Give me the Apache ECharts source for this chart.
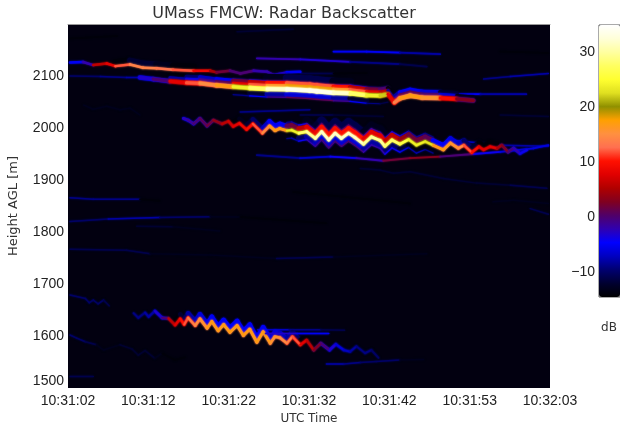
<!DOCTYPE html>
<html>
<head>
<meta charset="utf-8">
<script src="https://cdn.jsdelivr.net/npm/echarts@6/dist/echarts.min.js"></script>
<style>
  html, body { margin: 0; background: #fff; }
  #chart { width: 620px; height: 425px; }
</style>
</head>
<body>
<div id="chart"></div>
<script>
// every trace is a list of [seconds after 10:31:02, height m, dB]
const timeLabels = ['10:31:02', '10:31:12', '10:31:22', '10:31:32', '10:31:42', '10:31:53', '10:32:03'];
const colorTicks = [-10, 0, 10, 20, 30];

const upperLine = [[0.25,2126,-6],[1.9,2127,-5],[3.2,2121,-2],[4.9,2124,6],[6,2119,8],[7.85,2122,12],[9.5,2116,14],[11.2,2115,14],[13.3,2112,13],[15.9,2110,12],[18,2110,9],[18.8,2107,5],[20.5,2110,2],[21.8,2105,0],[23.5,2110,0],[25.2,2108,-2],[26,2102,-2],[27.7,2107,-3],[29.4,2108,-5]];
const mainLine = [[9.1,2097,-5],[10.8,2094,-3],[12.9,2090,0],[15,2087,8],[16.7,2086,12],[18.8,2082,15],[20.9,2079.5,17],[23,2077,24],[25.2,2075,28],[27.7,2074.4,32],[30.6,2072,34],[31.5,2070.5,34],[33.6,2068,34],[35.7,2066.7,32],[37.8,2063,28],[39.5,2062,24],[40.5,2065,22],[41.3,2049,8],[42,2057,14],[43.3,2062,17],[44.8,2058.4,17],[47.1,2057.7,16],[49.2,2055.8,10],[51.3,2053,3]];
const zigzag2000 = [[14.6,2018.5,-2],[15.2,2015,-2],[15.9,2008,-1],[16.7,2018.5,0],[17.6,2004,1],[18.4,2015,2],[19.5,2008,4],[20.3,2013,6],[20.9,2003,7],[21.7,2009,8],[22.6,1997,9],[23.4,2008,10],[24.6,1990,12],[25.5,2004,15],[26.2,1995,17],[26.8,1999,17],[27.7,1995,17],[28.3,1996,23],[29.2,1990,24],[30.2,1993,28],[31.3,1980,30],[32.1,1993,31],[33,1977,32],[33.8,1990,32],[34.6,1980,32],[35.5,1990,32],[36.3,1982,32],[37.4,1969,32],[38.4,1983,30],[39.5,1976,30],[40.1,1965,30],[41,1977,28],[42,1969,28],[43.1,1978,26],[44.1,1967,24],[45.2,1974,24],[46.2,1967,23],[47.5,1958,17],[48.4,1971,17],[49.4,1961,16],[50.1,1967,15],[51.1,1953,12],[52,1964,10],[52.6,1958,8],[53.4,1964,8],[54.3,1961,8],[54.9,1967,5],[55.7,1954,3],[56.4,1961,0],[57.2,1951,-2],[58.1,1958,-4]];
const zigzag1600 = [[8.3,1644,-9],[8.9,1635,-9],[9.75,1645,-9],[10.2,1637,-8],[11,1648,-8],[11.9,1635,-3],[12.7,1634,0],[13.55,1621,6],[14.2,1633,8],[14.7,1622,10],[15.2,1635,12],[16.1,1620,14],[16.7,1633,15],[17.6,1615,16],[18.2,1628,17],[19,1610,17],[19.7,1622,17],[20.5,1607,17],[21.4,1620,17],[22.2,1601,17],[23,1613,17],[23.9,1588,17],[24.7,1608,17],[25.6,1586,17],[26.2,1599,16],[26.8,1597,16],[27.7,1586,15],[28.4,1599,14],[29.4,1583,12],[30.2,1592,8],[31.1,1573,6],[32,1586,3],[33.1,1573,0],[33.9,1584,-3],[34.9,1573,-6],[35.7,1570,-7],[36.5,1580,-8],[37.6,1567,-9],[38.4,1573,-9],[39.3,1558,-10]];
const zigzag1670 = [[0.25,1679,-7],[2.2,1672,-8],[2.7,1664,-8],[3.2,1669,-8],[3.8,1662,-8],[4.5,1669,-8],[5.2,1658,-9]];
const lowerZigzag = [[0.25,1602,-8],[1.1,1596,-8],[2.2,1589,-8],[3.6,1583,-9],[4.5,1573,-11],[6.6,1583,-11],[8.1,1575,-10],[8.9,1563,-10],[9.75,1572,-10],[11,1557,-10],[11.9,1567,-11],[13.5,1554,-12],[14.8,1559,-12]];
const flat1611 = [[24,1612,-4],[28,1612,-5],[32,1612,-7],[35,1611,-9]];
const flat1605 = [[25,1605,0],[29,1605,-1],[33,1605,-3]];
const flat1546 = [[32.7,1546,-7],[34.9,1546,-6],[37,1549,-7],[39,1551,-8],[42,1554,-8],[45,1555,-11]];
const flat1522 = [[0.25,1522,-9],[3.2,1522,-9]];
const mid1866 = [[0.25,1866,-8],[3.2,1863,-7],[9.1,1863,-7],[11.6,1860,-12]];
const mid1825 = [[0.25,1820,-12],[5.1,1825,-8],[11.6,1828,-6],[18,1829.5,-8],[21.8,1829,-11],[32.7,1817,-12],[45.4,1811,-12.5],[60,1811,-12.5]];
const mid1810 = [[8.7,1811,-10],[13.3,1810,-10],[19.2,1802,-11]];
const mid1760 = [[0.25,1767,-10],[7.4,1765,-9],[10.4,1758,-9],[18,1756,-11],[26.4,1749,-11],[33.6,1752,-9],[45.4,1758,-11]];
const right1860 = [[53.8,1858,-11],[56.4,1861,-11],[60.8,1855,-11]];
const right1840 = [[58.5,1845,-9],[60.8,1834,-9]];
const rising1950 = [[23.9,1948,-10],[29.4,1942,-9],[33.2,1945,-7],[36.5,1942,-4],[39.9,1937,-2],[43.3,1942,2],[47.1,1945,3],[51.3,1950,0],[54.7,1954,-4],[58.9,1961,-6],[60.8,1967,-6]];
const falling1900 = [[37,1922,-10],[39.5,1919,-10],[41.2,1913,-10],[43.3,1916,-10],[47.5,1903,-10],[51.7,1894,-10],[56,1890,-10],[60.6,1884,-9]];
const falling1870 = [[28.5,1877,-12],[34.9,1868,-12],[43.3,1855,-12]];
const top2180 = [[0.25,2172,-12],[6.2,2177,-12]];
const top2190 = [[21.4,2185,-10],[28.5,2190,-10]];
const left2100 = [[0.25,2100,-7],[4.1,2099,-8],[7.4,2097,-7],[9.1,2097,-6]];
const left2040 = [[2,2044,-11],[3.2,2036,-11],[4.9,2042,-11],[6.6,2035,-11],[7.85,2038,-11],[9.1,2025,-11]];
const line2130 = [[23.9,2134,-4],[29.4,2132,-2],[35.7,2127,-3],[42,2123,-9],[45.4,2118,-11]];
const line2147 = [[33.6,2147,-6],[37.8,2147,-5],[42,2145,-5],[47.1,2142,-8]];
const line2146 = [[54.7,2147,-12],[60.8,2144,-12]];
const line2105 = [[29.4,2105,-9],[33.6,2105,-9],[37.8,2106,-12]];
const rightRise2100 = [[52.6,2094,-10],[56,2099,-7],[60.8,2105,-6]];
const after2065 = [[42,2065,3],[47,2065,4],[52.2,2065,-5],[58,2065,-8]];
const line2025 = [[29.4,2025,-9],[33.6,2025,-9],[39.9,2022,-10]];
const right2025 = [[54.7,2025,-10],[60.8,2022,-10]];
const above1970 = [[48.4,1977,-5],[54.7,1967,-5],[60.8,1965,-6]];
const above2030 = [[21.8,2031,-7],[30.6,2035,-7]];

// [pixel offset, line width, dB relative to the trace]
const thin = [[0, 1.5, -2]];
const solid = [[0, 1.8, 0]];
const medium = [[-4, 6, -26], [0, 2.5, 0]];
const strong = [[-11, 8, -45], [5, 5, -40], [8, 1.2, -33], [-8, 1.5, -33], [-6, 4, -22], [-3.5, 3, -16], [0, 4.5, -3], [0, 3, 0]];
const zig = [[-11, 8, -43], [5, 5, -38], [8, 1.2, -32], [-8, 1.5, -32], [-4.5, 4.5, -22], [0, 2.8, -3], [0, 1.8, 0]];

const drawList = [
  [top2180, thin], [top2190, thin], [left2040, thin], [line2146, thin], [line2105, thin], [line2147, solid],
  [line2130, solid], [rightRise2100, thin], [line2025, thin], [right2025, thin], [above2030, thin], [above1970, thin],
  [falling1900, thin], [falling1870, thin], [mid1866, thin], [mid1825, thin], [mid1810, thin], [mid1760, thin],
  [right1860, thin], [right1840, thin], [flat1522, thin], [flat1546, thin], [lowerZigzag, thin], [zigzag1670, thin],
  [left2100, thin], [after2065, solid], [rising1950, solid], [flat1611, thin], [upperLine, medium], [mainLine, strong],
  [zigzag2000, zig], [zigzag1600, zig], [flat1605, thin],
];

function buildSegments() {
  let rows = [];
  drawList.forEach(([trace, layers]) => {
    layers.forEach(([offset, width, delta]) => {
      for (let i = 1; i < trace.length; i++) {
        let a = trace[i - 1];
        let b = trace[i];
        let db = b[2] + delta;
        if (db < -14) continue;
        rows.push([a[0], a[1], b[0], b[1], db, offset, width]);
      }
    });
  });
  return rows;
}

function renderSegment(params, api) {
  let a = api.coord([api.value(0), api.value(1)]);
  let b = api.coord([api.value(2), api.value(3)]);
  let offset = api.value(5);
  let color = api.visual('color');
  return {
    type: 'line',
    shape: { x1: a[0], y1: a[1] + offset, x2: b[0], y2: b[1] + offset },
    style: { stroke: color, lineWidth: api.value(6), lineCap: 'round', shadowBlur: 2, shadowColor: color },
  };
}

const chart = echarts.init(document.getElementById('chart'));
const font = 'Liberation Sans';
const wide = 'DejaVu Sans';

chart.setOption({
  animation: false,
  backgroundColor: '#fff',
  title: [
    { text: 'UMass FMCW: Radar Backscatter', left: 279, top: 1, textAlign: 'center', textStyle: { fontFamily: wide, fontSize: 16, fontWeight: 'normal', color: '#333' } },
    { text: 'dB', left: 604, top: 317, textAlign: 'center', textStyle: { fontFamily: wide, fontSize: 12, fontWeight: 'normal', color: '#333' } },
  ],
  grid: [
    { left: 68, top: 24, width: 482, height: 364, outerBoundsMode: 'none', show: true, backgroundColor: '#020010', borderWidth: 0 },
    { left: 599, top: 25, width: 21, height: 272, outerBoundsMode: 'none', show: true, backgroundColor: 'transparent', borderColor: '#555', borderWidth: 1 },
  ],
  xAxis: [
    {
      gridIndex: 0, type: 'value', min: 0, max: 61, interval: 61 / 6,
      name: 'UTC Time', nameLocation: 'middle', nameGap: 24, nameTextStyle: { fontFamily: wide, fontSize: 12, color: '#333' },
      axisLine: { show: false }, axisTick: { show: false }, splitLine: { show: false },
      axisLabel: { margin: 6, fontFamily: font, fontSize: 14, color: '#222', formatter: v => timeLabels[Math.round(v / (61 / 6))] },
    },
    {
      gridIndex: 0, type: 'value', position: 'top', min: 0, max: 61,
      axisLine: { show: true, lineStyle: { color: '#999', width: 1 } }, axisTick: { show: false }, axisLabel: { show: false }, splitLine: { show: false },
    },
    { gridIndex: 1, type: 'value', min: 0, max: 1, show: false },
  ],
  yAxis: [
    {
      gridIndex: 0, type: 'value', min: 1500, max: 2200, interval: 100,
      name: 'Height AGL [m]', nameLocation: 'middle', nameGap: 48, nameTextStyle: { fontFamily: wide, fontSize: 13, color: '#333' },
      axisLine: { show: false }, axisTick: { show: false }, splitLine: { show: false },
      axisLabel: { margin: 4, fontFamily: font, fontSize: 14, color: '#222', showMaxLabel: false, verticalAlignMinLabel: 'bottom', formatter: v => String(v) },
    },
    {
      gridIndex: 1, type: 'value', min: -14.5, max: 35,
      axisLine: { show: false }, axisTick: { show: false }, splitLine: { show: false },
      axisLabel: { margin: 4, fontFamily: font, fontSize: 14, color: '#222', customValues: colorTicks, formatter: v => String(v).replace('-', '\u2212') },
    },
  ],
  visualMap: {
    type: 'continuous', seriesIndex: 0, dimension: 4, min: -14.5, max: 35,
    left: 599, top: 25, itemWidth: 21, itemHeight: 272, padding: 0, calculable: false, hoverLink: false,
    inRange: { color: ['#000000', '#000030', '#000070', '#0000c0', '#0000ff', '#3000b0', '#500068', '#800020', '#b00000', '#e00000', '#ff1000', '#ff7050', '#ff9040', '#ffa000', '#909000', '#e0e020', '#ffff30', '#ffff60', '#ffffa0', '#ffffd8', '#ffffff'] },
  },
  series: [
    {
      type: 'custom', coordinateSystem: 'cartesian2d', xAxisIndex: 0, yAxisIndex: 0, clip: true,
      encode: { x: [0, 2], y: [1, 3] }, renderItem: renderSegment, data: buildSegments(), silent: true,
    },
  ],
});
</script>
</body>
</html>
